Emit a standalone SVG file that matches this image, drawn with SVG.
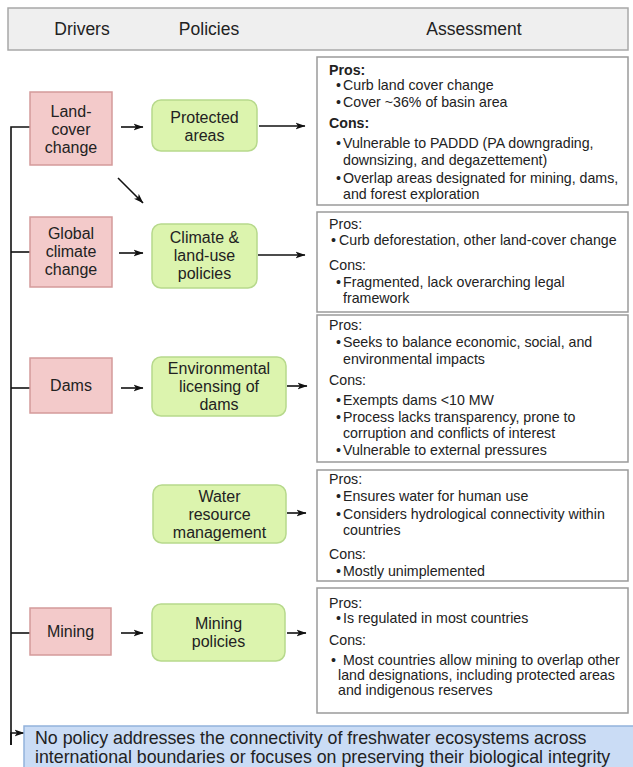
<svg xmlns="http://www.w3.org/2000/svg" width="633" height="767" viewBox="0 0 633 767">
<style>
text{font-family:"Liberation Sans",Arial,sans-serif;fill:#222}
.hd{font-size:17.5px;text-anchor:middle}
.nd{font-size:16px;text-anchor:middle}
.as{font-size:14.2px}
.b{font-weight:bold}
.cl{font-size:17.8px}
.drv{fill:#f3caca;stroke:#d49a9a;stroke-width:1.5}
.pol{fill:#dcf4ae;stroke:#b7d98c;stroke-width:1.5}
.box{fill:#fff;stroke:#9a9a9a;stroke-width:1.5}
.ln{stroke:#111;stroke-width:1.6;fill:none}
.ar{stroke:#111;stroke-width:1.6;fill:none;marker-end:url(#ah)}
</style>
<defs>
<marker id="ah" markerWidth="10" markerHeight="8" refX="9.5" refY="4" orient="auto" markerUnits="userSpaceOnUse">
<path d="M0,0.5 L10,4 L0,7.5 L2.5,4 z" fill="#111"/>
</marker>
</defs>
<rect width="633" height="767" fill="#fff"/>

<g id="header">
<rect x="8" y="8" width="620" height="42" fill="#efefef" stroke="#a8a8a8" stroke-width="1.5"/>
<text class="hd" x="82" y="35">Drivers</text>
<text class="hd" x="209" y="35">Policies</text>
<text class="hd" x="474" y="35">Assessment</text>
</g>

<g id="connectors">
<path class="ln" d="M31,127 H11 V745"/>
<path class="ln" d="M11,252 H31"/>
<path class="ln" d="M11,388 H31"/>
<path class="ln" d="M11,633 H30"/>
<path class="ar" d="M11,745 V733 H24"/>
<line class="ar" x1="121" y1="127" x2="143" y2="127"/>
<line class="ar" x1="259" y1="126" x2="305" y2="126"/>
<line class="ar" x1="118" y1="178" x2="143" y2="203"/>
<line class="ar" x1="119" y1="253" x2="143" y2="253"/>
<line class="ar" x1="258" y1="255" x2="305" y2="255"/>
<line class="ar" x1="121" y1="388" x2="143" y2="388"/>
<line class="ar" x1="287" y1="386" x2="307" y2="386"/>
<line class="ar" x1="287" y1="513" x2="306" y2="513"/>
<line class="ar" x1="121" y1="633" x2="143" y2="633"/>
<line class="ar" x1="287" y1="633" x2="306" y2="633"/>
</g>

<g id="driver-land-cover">
<rect class="drv" x="30" y="92" width="82" height="73"/>
<text class="nd" x="71" y="117">Land-</text>
<text class="nd" x="71" y="135">cover</text>
<text class="nd" x="71" y="153">change</text>
</g>
<g id="driver-climate">
<rect class="drv" x="30" y="217" width="82" height="70"/>
<text class="nd" x="71" y="239">Global</text>
<text class="nd" x="71" y="257">climate</text>
<text class="nd" x="71" y="275">change</text>
</g>
<g id="driver-dams">
<rect class="drv" x="30" y="358" width="82" height="55"/>
<text class="nd" x="71" y="391">Dams</text>
</g>
<g id="driver-mining">
<rect class="drv" x="30" y="608" width="81" height="47"/>
<text class="nd" x="70.5" y="637">Mining</text>
</g>

<g id="policy-protected">
<rect class="pol" x="152" y="100" width="105" height="51" rx="9"/>
<text class="nd" x="204.5" y="123">Protected</text>
<text class="nd" x="204.5" y="141">areas</text>
</g>
<g id="policy-climate">
<rect class="pol" x="152" y="224" width="105" height="64" rx="9"/>
<text class="nd" x="204.5" y="243">Climate &amp;</text>
<text class="nd" x="204.5" y="261">land-use</text>
<text class="nd" x="204.5" y="279">policies</text>
</g>
<g id="policy-licensing">
<rect class="pol" x="152" y="357" width="134" height="59" rx="9"/>
<text class="nd" x="219" y="374">Environmental</text>
<text class="nd" x="219" y="392">licensing of</text>
<text class="nd" x="219" y="410">dams</text>
</g>
<g id="policy-water">
<rect class="pol" x="153" y="485" width="133" height="58" rx="9"/>
<text class="nd" x="219.5" y="502">Water</text>
<text class="nd" x="219.5" y="520">resource</text>
<text class="nd" x="219.5" y="538">management</text>
</g>
<g id="policy-mining">
<rect class="pol" x="152" y="604" width="133" height="57" rx="9"/>
<text class="nd" x="218.5" y="629">Mining</text>
<text class="nd" x="218.5" y="647">policies</text>
</g>

<g id="assess-protected">
<rect class="box" x="317" y="57" width="311" height="148"/>
<text class="as b" x="329" y="75">Pros:</text>
<text class="as" x="336" y="90">•</text><text class="as" x="343" y="90">Curb land cover change</text>
<text class="as" x="336" y="107">•</text><text class="as" x="343" y="107">Cover ~36% of basin area</text>
<text class="as b" x="329" y="128">Cons:</text>
<text class="as" x="336" y="148">•</text><text class="as" x="343" y="148">Vulnerable to PADDD (PA downgrading,</text>
<text class="as" x="343" y="165">downsizing, and degazettement)</text>
<text class="as" x="336" y="183">•</text><text class="as" x="343" y="183">Overlap areas designated for mining, dams,</text>
<text class="as" x="343" y="199">and forest exploration</text>
</g>
<g id="assess-climate">
<rect class="box" x="317" y="212" width="311" height="100"/>
<text class="as" x="329" y="229">Pros:</text>
<text class="as" x="331" y="245">•</text><text class="as" x="339" y="245">Curb deforestation, other land-cover change</text>
<text class="as" x="329" y="270">Cons:</text>
<text class="as" x="336" y="287">•</text><text class="as" x="343" y="287">Fragmented, lack overarching legal</text>
<text class="as" x="343" y="303">framework</text>
</g>
<g id="assess-licensing">
<rect class="box" x="317" y="315" width="311" height="147"/>
<text class="as" x="329" y="330">Pros:</text>
<text class="as" x="336" y="347">•</text><text class="as" x="343" y="347">Seeks to balance economic, social, and</text>
<text class="as" x="343" y="364">environmental impacts</text>
<text class="as" x="329" y="385">Cons:</text>
<text class="as" x="336" y="405">•</text><text class="as" x="343" y="405">Exempts dams &lt;10 MW</text>
<text class="as" x="336" y="422">•</text><text class="as" x="343" y="422">Process lacks transparency, prone to</text>
<text class="as" x="343" y="438">corruption and conflicts of interest</text>
<text class="as" x="336" y="455">•</text><text class="as" x="343" y="455">Vulnerable to external pressures</text>
</g>
<g id="assess-water">
<rect class="box" x="317" y="470" width="311" height="111"/>
<text class="as" x="329" y="484">Pros:</text>
<text class="as" x="336" y="501">•</text><text class="as" x="343" y="501">Ensures water for human use</text>
<text class="as" x="336" y="519">•</text><text class="as" x="343" y="519">Considers hydrological connectivity within</text>
<text class="as" x="343" y="535">countries</text>
<text class="as" x="329" y="559">Cons:</text>
<text class="as" x="336" y="576">•</text><text class="as" x="343" y="576">Mostly unimplemented</text>
</g>
<g id="assess-mining">
<rect class="box" x="317" y="588" width="311" height="125"/>
<text class="as" x="329" y="608">Pros:</text>
<text class="as" x="336" y="623">•</text><text class="as" x="343" y="623">Is regulated in most countries</text>
<text class="as" x="329" y="645">Cons:</text>
<text class="as" x="331" y="665">•</text><text class="as" x="343" y="665">Most countries allow mining to overlap other</text>
<text class="as" x="338" y="680">land designations, including protected areas</text>
<text class="as" x="338" y="695">and indigenous reserves</text>
</g>

<g id="conclusion">
<rect x="24" y="726" width="613" height="50" fill="#cadcf5" stroke="#93b2dc" stroke-width="1.5"/>
<text class="cl" x="35" y="744">No policy addresses the connectivity of freshwater ecosystems across</text>
<text class="cl" x="35" y="763">international boundaries or focuses on preserving their biological integrity</text>
</g>
</svg>
